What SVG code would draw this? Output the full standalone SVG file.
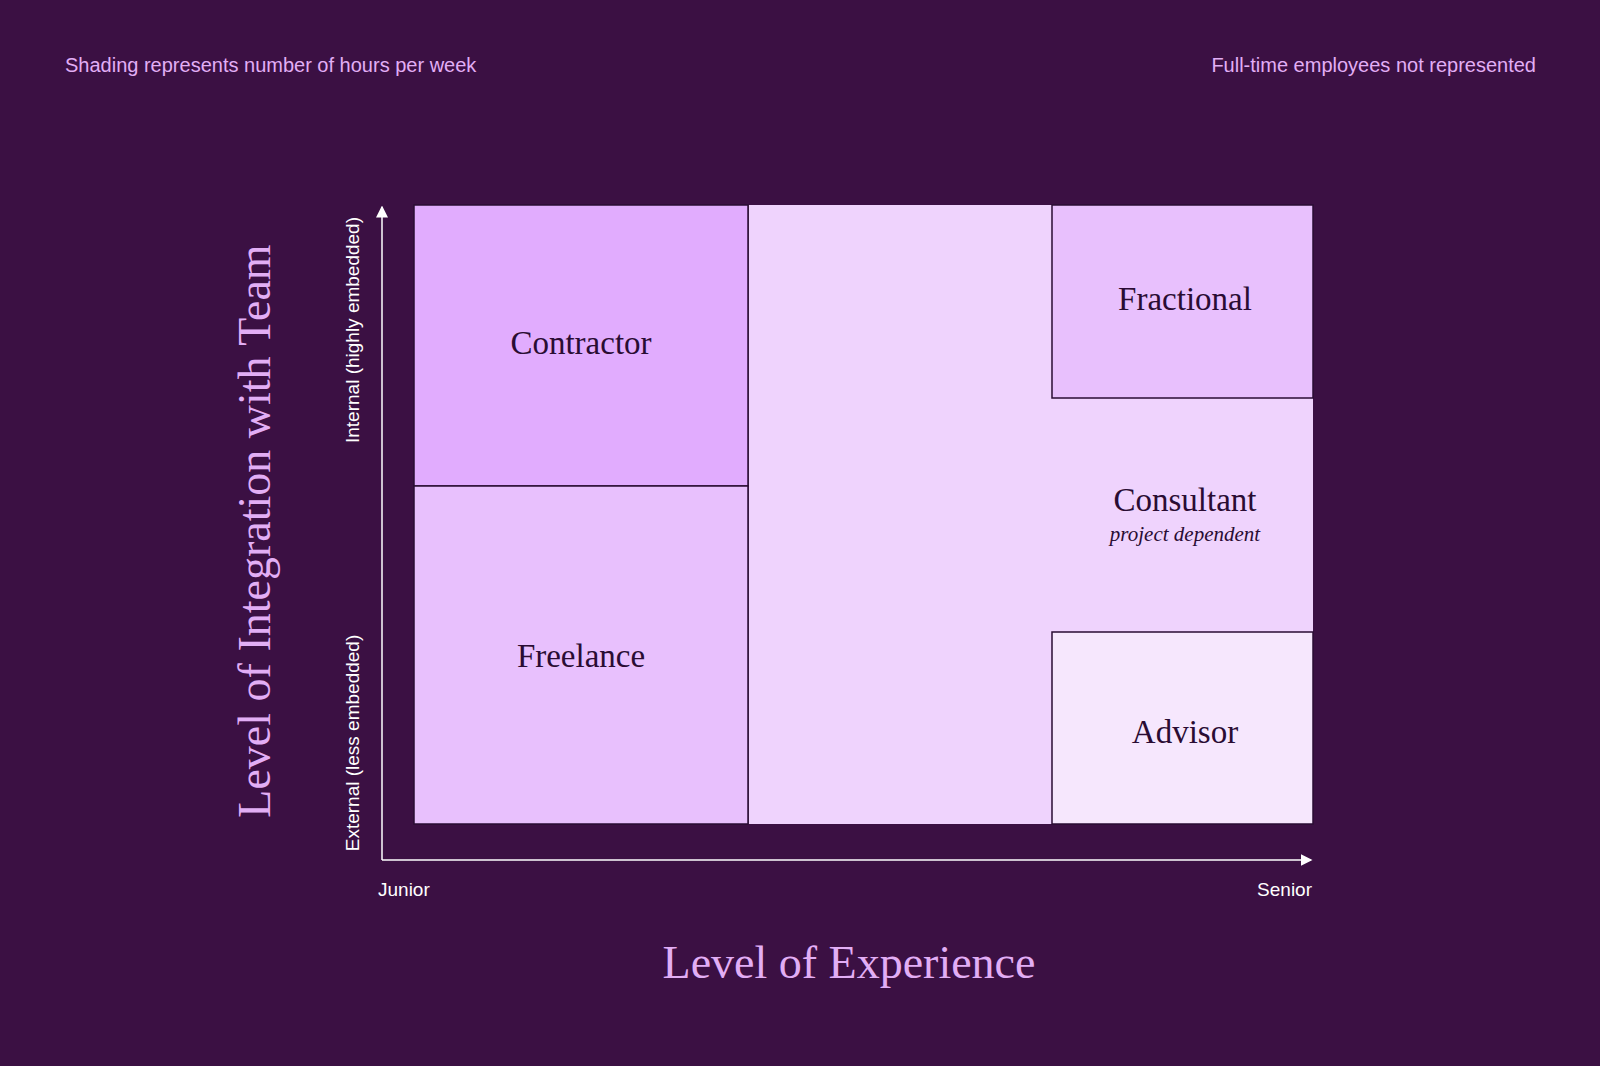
<svg xmlns="http://www.w3.org/2000/svg" width="1600" height="1066" viewBox="0 0 1600 1066">
<style>
.s{font-family:"Liberation Sans",Arial,sans-serif;fill:#e2aef5;font-size:20px}
.w{font-family:"Liberation Sans",Arial,sans-serif;fill:#ffffff;font-size:19px}
.t{font-family:"Liberation Serif","Times New Roman",serif;fill:#e2aef5;font-size:46px}
.n{font-family:"Liberation Serif","Times New Roman",serif;fill:#2a0c33;font-size:33px;text-anchor:middle}
.i{font-family:"Liberation Serif","Times New Roman",serif;fill:#2a0c33;font-size:21px;font-style:italic;text-anchor:middle}
.b{stroke:#2a0c33;stroke-width:1.5}
</style>
<defs><marker id="a" markerWidth="8" markerHeight="8" refX="7" refY="4" orient="auto"><path d="M0,0L8,4L0,8z" fill="#fff"/></marker></defs>
<rect width="1600" height="1066" fill="#3b1043"/>
<text class="s" x="65" y="72">Shading represents number of hours per week</text>
<text class="s" x="1536" y="72" text-anchor="end">Full-time employees not represented</text>
<g id="middle"><rect x="748" y="205" width="565" height="619" fill="#efd3fd"/><path class="b" d="M748,205V824"/></g>
<g id="consultant"><text class="n" x="1185" y="511">Consultant</text><text class="i" x="1185" y="541">project dependent</text></g>
<g id="contractor"><rect class="b" x="414" y="205" width="334" height="281" fill="#e1acfe"/><text class="n" x="581" y="354">Contractor</text></g>
<g id="freelance"><rect class="b" x="414" y="486" width="334" height="338" fill="#e8c0fd"/><text class="n" x="581" y="667">Freelance</text></g>
<g id="fractional"><rect class="b" x="1052" y="205" width="261" height="193" fill="#e8c0fd"/><text class="n" x="1185" y="310">Fractional</text></g>
<g id="advisor"><rect class="b" x="1052" y="632" width="261" height="192" fill="#f6e7fd"/><text class="n" x="1185" y="743">Advisor</text></g>
<g id="connectors" stroke="#fff" stroke-width="1.5" fill="none">
<path d="M382,860V207" marker-end="url(#a)"/>
<path d="M382,860H1311" marker-end="url(#a)"/>
</g>
<text class="w" x="378" y="896">Junior</text>
<text class="w" x="1312" y="896" text-anchor="end">Senior</text>
<text class="w" transform="translate(359,330) rotate(-90)" text-anchor="middle">Internal (highly embedded)</text>
<text class="w" transform="translate(359,743) rotate(-90)" text-anchor="middle">External (less embedded)</text>
<text class="t" x="849" y="978" text-anchor="middle">Level of Experience</text>
<text class="t" transform="translate(270,531) rotate(-90)" text-anchor="middle">Level of Integration with Team</text>
</svg>
